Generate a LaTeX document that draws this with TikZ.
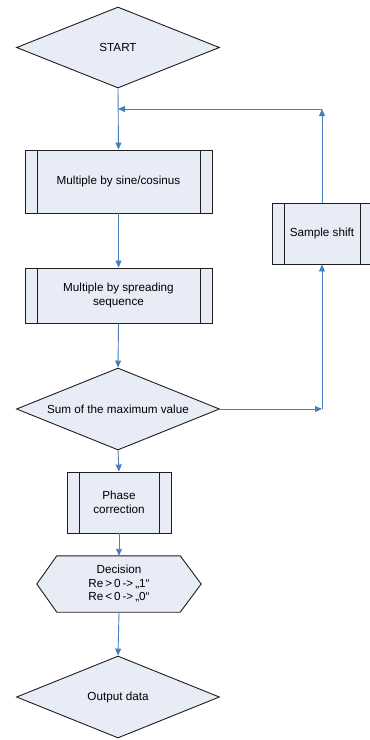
\documentclass[tikz,border=0pt]{standalone}
\usepackage{fontspec}
\setmainfont{Liberation Sans}
\usetikzlibrary{shapes.geometric,arrows.meta,backgrounds}
\definecolor{boxfill}{RGB}{232,236,247}
\definecolor{linkblue}{RGB}{74,126,187}
\definecolor{edge}{RGB}{30,30,30}
\tikzset{
  shp/.style={draw=edge, line width=0.9pt, fill=boxfill},
  txt/.style={font=\fontsize{11.7}{13.5}\selectfont, align=center, inner sep=0pt},
  dia/.style={shp, txt, diamond, aspect=2.5, minimum width=203pt, minimum height=81pt},
  proc/.style={shp, txt, rectangle, path picture={
      \draw[edge, line width=0.9pt]
        ([xshift=12pt]path picture bounding box.north west) -- ([xshift=12pt]path picture bounding box.south west)
        ([xshift=-12pt]path picture bounding box.north east) -- ([xshift=-12pt]path picture bounding box.south east);}},
  arr/.style={draw=linkblue, line width=0.9pt, -{Triangle[length=7pt,width=6pt]}},
}
\begin{document}
\begin{tikzpicture}[x=1pt,y=-1pt]
\useasboundingbox (0,0) rectangle (370,740);
\node[dia] (start) at (118,47.5) {START};
\node[proc, minimum width=187pt, minimum height=63pt] (b1) at (118.5,181.5) {Multiple by sine/cosinus};
\node[proc, minimum width=187pt, minimum height=55pt] (b2) at (118.5,295.5) {Multiple by spreading\\sequence};
\node[dia, minimum height=82pt] (sum) at (118,409) {Sum of the maximum value};
\node[proc, minimum width=104pt, minimum height=61pt] (ph) at (119,502.5) {Phase\\correction};
\node[txt, minimum width=164pt, minimum height=56pt] (dec) at (119,584) {Decision\\Re\,>\,0\,->\,„1“\\Re\,<\,0\,->\,„0“};
\begin{scope}[on background layer]
\draw[shp] (dec.west) -- ([xshift=20pt]dec.north west) -- ([xshift=-21pt]dec.north east) -- (dec.east)
  -- ([xshift=-21pt]dec.south east) -- ([xshift=20pt]dec.south west) -- cycle;
\end{scope}
\node[dia, minimum height=82pt] (out) at (118,697) {Output data};
\node[proc, minimum width=100pt, minimum height=61pt] (ss) at (322,233.5) {Sample shift};
\coordinate (c1) at (322,109);
\coordinate (j1) at (118,109);
\coordinate (c2) at (322,409);
\draw[arr] (start.south) -- (b1.north);
\draw[arr] (ss.north) -- (c1);
\draw[arr] (c1) -- (j1);
\draw[arr] (b1.south) -- (b2.north);
\draw[arr] (b2.south) -- (sum.north);
\draw[arr] (sum.east) -- (c2);
\draw[arr] (c2) -- (ss.south);
\draw[arr] (sum.south) -- (ph.north);
\draw[arr] (ph.south) -- (dec.north);
\draw[arr] (dec.south) -- (out.north);
\end{tikzpicture}
\end{document}
